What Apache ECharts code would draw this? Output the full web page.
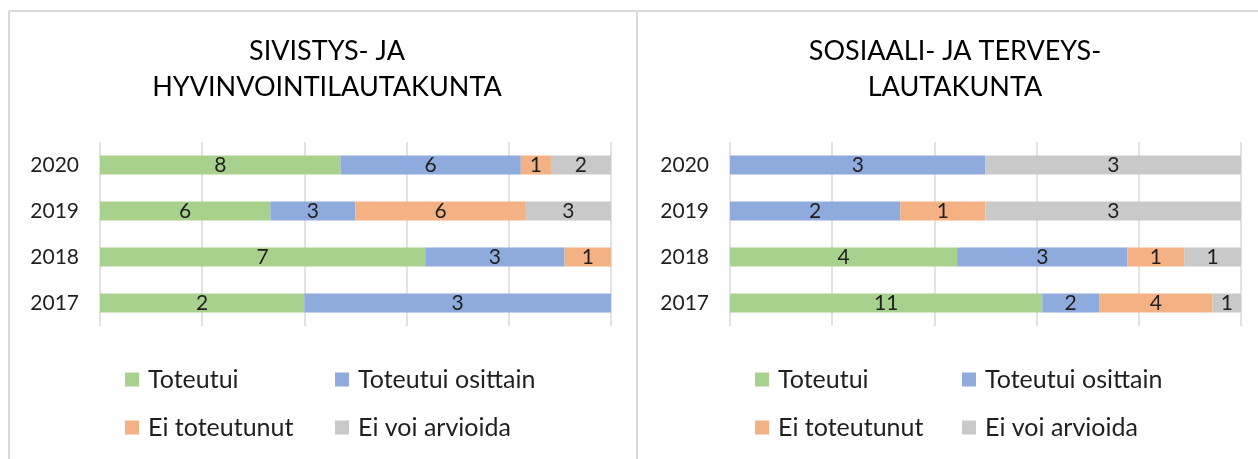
<!DOCTYPE html>
<html><head><meta charset="utf-8">
<script src="https://cdn.jsdelivr.net/npm/echarts@6/dist/echarts.min.js"></script>
<style>html,body{margin:0;padding:0;background:#fff}#c{width:1258px;height:459px}</style>
</head><body><div id="c"></div>
<script>
const years = ['2017', '2018', '2019', '2020'];
const seriesNames = ['Toteutui', 'Toteutui osittain', 'Ei toteutunut', 'Ei voi arvioida'];
const colors = ['#A9D18E', '#8FAADC', '#F4B183', '#C9C9C9'];
const leftTitle = 'SIVISTYS- JA\nHYVINVOINTILAUTAKUNTA';
const rightTitle = 'SOSIAALI- JA TERVEYS-\nLAUTAKUNTA';
// values per year, in order 2017, 2018, 2019, 2020
const leftToteutui = [2, 7, 6, 8];
const leftOsittain = [3, 3, 3, 6];
const leftEiToteutunut = [0, 1, 6, 1];
const leftEiVoi = [0, 0, 3, 2];
const rightToteutui = [11, 4, 0, 0];
const rightOsittain = [2, 3, 2, 3];
const rightEiToteutunut = [4, 1, 1, 0];
const rightEiVoi = [1, 1, 3, 3];

const FONT = 'Lato, "Open Sans", sans-serif';
const panels = [
  { title: leftTitle, values: [leftToteutui, leftOsittain, leftEiToteutunut, leftEiVoi], gridLeft: 100, titleX: 327, legendX: [125, 335] },
  { title: rightTitle, values: [rightToteutui, rightOsittain, rightEiToteutunut, rightEiVoi], gridLeft: 730, titleX: 955, legendX: [755, 962] }
];

const grid = [], xAxis = [], yAxis = [], series = [], legend = [], graphic = [];
panels.forEach((p, pi) => {
  grid.push({ left: p.gridLeft, width: 511, top: 142, height: 184, containLabel: false });
  xAxis.push({
    type: 'value', gridIndex: pi, min: 0, max: 100, interval: 20,
    axisLabel: { show: false }, axisLine: { show: false }, axisTick: { show: false },
    splitLine: { show: true, lineStyle: { color: '#D9D9D9', width: 1.5 } }
  });
  yAxis.push({
    type: 'category', gridIndex: pi, data: years,
    axisLine: { show: false }, axisTick: { show: false },
    axisLabel: { fontFamily: FONT, fontSize: 21, color: '#1f1f1f', margin: 21 }
  });
  const totals = years.map((_, i) => p.values.reduce((s, arr) => s + arr[i], 0));
  p.values.forEach((arr, si) => {
    series.push({
      name: seriesNames[si], type: 'bar', stack: 'p' + pi, xAxisIndex: pi, yAxisIndex: pi,
      barWidth: 19, itemStyle: { color: colors[si] },
      data: arr.map((v, i) => v ? { value: v / totals[i] * 100, raw: v } : null),
      label: { show: true, position: 'inside', fontFamily: FONT, fontSize: 21, color: '#1f1f1f',
        formatter: (d) => d.data && d.data.raw ? String(d.data.raw) : '' },
      emphasis: { disabled: true }
    });
  });
  seriesNames.forEach((n, si) => {
    legend.push({
      data: [n], left: p.legendX[si % 2], top: si < 2 ? 367 : 415, padding: 0,
      icon: 'rect', itemWidth: 14, itemHeight: 14, selectedMode: false,
      textStyle: { fontFamily: FONT, fontSize: 25, color: '#1f1f1f', padding: [0, 0, 0, 4] }
    });
  });
  graphic.push({
    type: 'text', x: p.titleX, y: 69,
    style: { text: p.title, textAlign: 'center', textVerticalAlign: 'middle', fontFamily: FONT, fontSize: 27, lineHeight: 36, fill: '#000' }
  });
});
graphic.push(
  { type: 'line', shape: { x1: 9, y1: 11, x2: 1258, y2: 11 }, style: { stroke: '#D9D9D9', lineWidth: 2 } },
  { type: 'line', shape: { x1: 9, y1: 11, x2: 9, y2: 459 }, style: { stroke: '#D9D9D9', lineWidth: 2 } },
  { type: 'line', shape: { x1: 637, y1: 11, x2: 637, y2: 459 }, style: { stroke: '#D9D9D9', lineWidth: 2 } }
);

const chart = echarts.init(document.getElementById('c'), null, { renderer: 'canvas' });
chart.setOption({ animation: false, backgroundColor: '#fff', grid, xAxis, yAxis, series, legend, graphic });
</script></body></html>
